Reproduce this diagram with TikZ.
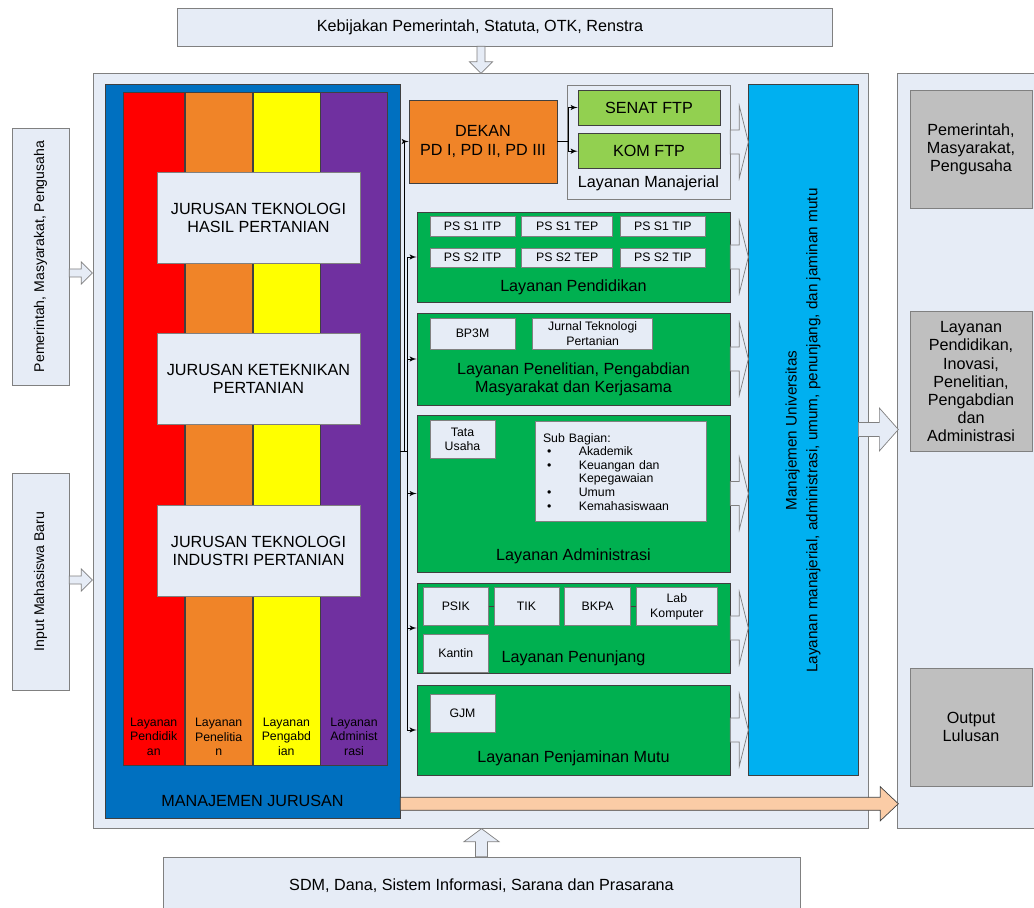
\documentclass[tikz,border=0pt]{standalone}
\usepackage{fontspec}
\setmainfont{Liberation Sans}
\usetikzlibrary{shapes,arrows,positioning}

\definecolor{bgpanel}{RGB}{230,236,246}
\definecolor{edgegray}{RGB}{128,128,128}
\definecolor{edgedark}{RGB}{64,64,64}
\definecolor{deptblue}{RGB}{0,112,192}
\definecolor{stripered}{RGB}{255,0,0}
\definecolor{stripeorange}{RGB}{240,132,40}
\definecolor{stripeyellow}{RGB}{255,255,0}
\definecolor{stripepurple}{RGB}{112,48,160}
\definecolor{svcgreen}{RGB}{0,176,80}
\definecolor{senatgreen}{RGB}{146,208,80}
\definecolor{univcyan}{RGB}{0,176,240}
\definecolor{outgrey}{RGB}{191,191,191}
\definecolor{peach}{RGB}{251,204,166}

\newcommand{\fsmain}{\fontsize{9.2}{10.3}\selectfont}
\newcommand{\fssmall}{\fontsize{7}{8.2}\selectfont}
\newcommand{\fsside}{\fontsize{8}{9.6}\selectfont}

\tikzstyle{panel} = [rectangle, draw=edgegray, fill=bgpanel, inner sep=0pt]
\tikzstyle{stripe} = [rectangle, draw=edgedark, minimum width=1.34cm,
    minimum height=13.46cm, inner sep=0pt]
\tikzstyle{jurusan} = [panel, minimum width=4.06cm, minimum height=1.82cm,
    font=\fsmain, text centered, align=center]
\tikzstyle{layanan} = [rectangle, draw=edgedark, fill=svcgreen,
    minimum width=6.26cm, inner sep=0pt]
\tikzstyle{unit} = [panel, font=\fssmall, align=center, minimum width=1.3cm,
    minimum height=0.76cm]
\tikzstyle{grey} = [rectangle, draw=edgegray, fill=outgrey, minimum width=2.44cm,
    font=\fsmain, align=center]
\tikzstyle{lbl} = [anchor=center, font=\fsmain, align=center]
\tikzstyle{sidelbl} = [rotate=90, anchor=center, font=\fsside]
\tikzstyle{stripelbl} = [anchor=center, yshift=0.57cm, font=\fssmall, align=center]
\tikzstyle{line} = [draw, -latex']
\tikzstyle{hollow} = [draw=edgegray, fill=bgpanel]

\begin{document}
\begin{tikzpicture}[x=0.02cm, y=-0.02cm, node distance=0.1cm]
    \useasboundingbox (0,0) rectangle (1034,908);

    % Place frames and inputs
    \node [panel, minimum width=15.5cm, minimum height=15.1cm] (sys) at (480.5,450.5) {};
    \node [panel, minimum width=2.86cm, minimum height=15.1cm] (out) at (968.5,450.5) {};
    \node [panel, minimum width=13.1cm, minimum height=0.76cm,
        label={[font=\fsmain, xshift=-0.49cm]center:Kebijakan Pemerintah, Statuta, OTK, Renstra}] (kebijakan) at (504.5,27) {};
    \node [panel, minimum width=12.74cm, minimum height=1.16cm, font=\fsmain] (sdm) at (481.5,886)
        {SDM, Dana, Sistem Informasi, Sarana dan Prasarana};
    \node [panel, minimum width=1.14cm, minimum height=5.14cm,
        label={[sidelbl]center:Pemerintah, Masyarakat, Pengusaha}] (pms) at (40.5,256.5) {};
    \node [panel, minimum width=1.14cm, minimum height=4.34cm,
        label={[sidelbl]center:Input Mahasiswa Baru}] (input) at (40.5,581.5) {};

    % Place manajemen jurusan
    \node [rectangle, draw=edgedark, fill=deptblue, minimum width=5.9cm, minimum height=14.68cm,
        label={[lbl, yshift=0.34cm]south:MANAJEMEN JURUSAN}] (mj) at (252.5,451) {};
    \node [stripe, fill=stripered, minimum width=1.23cm,
        label={[stripelbl]south:Layanan\\Pendidik\\an}] (spdd) at (153.75,428.5) {};
    \node [stripe, fill=stripeorange, right=0pt of spdd,
        label={[stripelbl]south:Layanan\\Penelitia\\n}] (splt) {};
    \node [stripe, fill=stripeyellow, right=0pt of splt,
        label={[stripelbl]south:Layanan\\Pengabd\\ian}] (spgb) {};
    \node [stripe, fill=stripepurple, right=0pt of spgb,
        label={[stripelbl]south:Layanan\\Administ\\rasi}] (sadm) {};
    \node [jurusan] (jthp) at (258.5,217.5) {JURUSAN TEKNOLOGI\\HASIL PERTANIAN};
    \node [jurusan] (jtp) at (258.5,379) {JURUSAN KETEKNIKAN\\PERTANIAN};
    \node [jurusan] (jtip) at (258.5,551) {JURUSAN TEKNOLOGI\\INDUSTRI PERTANIAN};

    % Place dekan and layanan manajerial
    \node [rectangle, draw=edgedark, fill=stripeorange, minimum width=2.96cm, minimum height=1.66cm,
        font=\fsmain, align=center] (dekan) at (483,141.5) {DEKAN\\PD I, PD II, PD III};
    \node [panel, minimum width=3.26cm, minimum height=2.28cm,
        label={[lbl, yshift=0.33cm]south:Layanan Manajerial}] (manaj) at (648.5,142) {};
    \node [rectangle, draw=edgedark, fill=senatgreen, minimum width=2.84cm, minimum height=0.7cm,
        font=\fsmain] (senat) at (649,107.5) {SENAT FTP};
    \node [rectangle, draw=edgedark, fill=senatgreen, minimum width=2.84cm, minimum height=0.7cm,
        font=\fsmain, below=0.16cm of senat] (kom) {KOM FTP};

    % Place layanan pendidikan
    \node [layanan, minimum height=1.8cm,
        label={[lbl, yshift=0.3cm]south:Layanan Pendidikan}] (lpend) at (573.5,257) {};
    \node [unit, minimum width=1.7cm, minimum height=0.39cm] (s1itp) at (472.5,226.5) {PS S1 ITP};
    \node [unit, minimum width=1.82cm, minimum height=0.39cm, right=0.12cm of s1itp] (s1tep) {PS S1 TEP};
    \node [unit, minimum width=1.7cm, minimum height=0.39cm, right=0.14cm of s1tep] (s1tip) {PS S1 TIP};
    \node [unit, minimum width=1.7cm, minimum height=0.39cm, below=0.22cm of s1itp] (s2itp) {PS S2 ITP};
    \node [unit, minimum width=1.82cm, minimum height=0.39cm, below=0.22cm of s1tep] (s2tep) {PS S2 TEP};
    \node [unit, minimum width=1.7cm, minimum height=0.39cm, below=0.22cm of s1tip] (s2tip) {PS S2 TIP};

    % Place layanan penelitian
    \node [layanan, minimum height=1.84cm,
        label={[lbl, yshift=0.52cm]south:Layanan Penelitian, Pengabdian\\Masyarakat dan Kerjasama}] (lpen) at (573.5,359) {};
    \node [unit, minimum width=1.7cm, minimum height=0.62cm] (bp3m) at (472.5,333.7) {BP3M};
    \node [unit, minimum width=2.4cm, minimum height=0.62cm, right=0.34cm of bp3m] (jurnal) {Jurnal Teknologi\\Pertanian};

    % Place layanan administrasi
    \node [layanan, minimum height=3.14cm,
        label={[lbl, yshift=0.32cm]south:Layanan Administrasi}] (ladm) at (573.5,493.5) {};
    \node [unit, minimum height=0.75cm] (tu) at (462.5,439.5) {Tata\\Usaha};
    \node [unit, minimum width=3.42cm, minimum height=2cm, text width=3.1cm, inner sep=4.5pt,
        align=left, font=\fontsize{7}{7.7}\selectfont] (subbag) at (620.5,471.8)
        {Sub Bagian:\\
        \hspace*{2.3pt}\makebox[18.1pt][l]{\textbullet}Akademik\\
        \hspace*{2.3pt}\makebox[18.1pt][l]{\textbullet}Keuangan dan\\
        \hspace*{20.4pt}Kepegawaian\\
        \hspace*{2.3pt}\makebox[18.1pt][l]{\textbullet}Umum\\
        \hspace*{2.3pt}\makebox[18.1pt][l]{\textbullet}Kemahasiswaan};

    % Place layanan penunjang
    \node [layanan, minimum height=1.8cm,
        label={[lbl, yshift=0.31cm]south:Layanan Penunjang}] (lpenun) at (573.5,628) {};
    \node [unit] (psik) at (455.8,606.7) {PSIK};
    \node [unit, right=of psik] (tik) {TIK};
    \node [unit, minimum width=1.32cm, right=of tik] (bkpa) {BKPA};
    \node [unit, minimum width=1.62cm, right=of bkpa] (lab) {Lab\\Komputer};
    \node [unit, below=0.15cm of psik] (kantin) {Kantin};

    % Place layanan penjaminan mutu
    \node [layanan, minimum height=1.8cm,
        label={[lbl, yshift=0.34cm]south:Layanan Penjaminan Mutu}] (lmutu) at (573.5,730) {};
    \node [unit] (gjm) at (462.5,713) {GJM};

    % Place manajemen universitas and outputs
    \node [rectangle, draw=edgedark, fill=univcyan, minimum width=2.2cm, minimum height=13.82cm,
        label={[rotate=90, anchor=center, align=center, xshift=-0.02cm, font=\fontsize{8.7}{11.9}\selectfont]center:Manajemen Universitas\\Layanan manajerial, administrasi, umum, penunjang, dan jaminan mutu}] (univ) at (803,429.5) {};
    \node [grey, minimum height=2.35cm] (g1) at (971,149.5) {Pemerintah,\\Masyarakat,\\Pengusaha};
    \node [grey, minimum height=2.8cm] (g2) at (971,381.7)
        {Layanan\\Pendidikan,\\Inovasi,\\Penelitian,\\Pengabdian\\dan\\Administrasi};
    \node [grey, minimum height=2.36cm] (g3) at (971,727) {Output\\Lulusan};

    % Draw edges
    \path [line] (mj.east) -- ++(4,0) |- (dekan.west);
    \foreach \b in {lpend,lpen,ladm,lpenun,lmutu}
        \path [line] (mj.east) -- ++(7,0) |- (\b.west);
    \path [line] (dekan.east) -- ++(11,0) |- (senat.west);
    \path [line] (dekan.east) -- ++(11,0) |- (kom.west);
    \draw [edgedark] (psik) -- (tik);
    \draw [edgedark] (bkpa) -- (lab);

    % Draw block arrows
    \foreach \b in {manaj,lpend,lpen,ladm,lpenun,lmutu}
        \draw [hollow] (\b.east) ++(0,-12) -- ++(9,0) -- ++(0,-24) -- ++(9,36)
            -- ++(-9,36) -- ++(0,-24) -- ++(-9,0) -- cycle;
    \draw [hollow] (univ.east) ++(0,-7) -- ++(21,0) -- ++(0,-14.5) -- ++(19,21.5)
        -- ++(-19,21.5) -- ++(0,-14.5) -- ++(-21,0) -- cycle;
    \draw [hollow] (pms.east) ++(0,12.5) -- ++(12,0) -- ++(0,-7) -- ++(11,11)
        -- ++(-11,11) -- ++(0,-7) -- ++(-12,0) -- cycle;
    \draw [hollow] (input.east) ++(0,-5.5) -- ++(12,0) -- ++(0,-7) -- ++(11,11)
        -- ++(-11,11) -- ++(0,-7) -- ++(-12,0) -- cycle;
    \draw [hollow] (kebijakan.south) ++(-27.5,0) -- ++(0,15.5) -- ++(-7.5,0) -- ++(11.5,11.5)
        -- ++(11.5,-11.5) -- ++(-7.5,0) -- ++(0,-15.5) -- cycle;
    \draw [hollow] (sdm.north) ++(-6,0) -- ++(0,-15) -- ++(-11.5,0) -- ++(17.5,-13)
        -- ++(17.5,13) -- ++(-11.5,0) -- ++(0,15) -- cycle;
    \draw [hollow, draw=edgedark, fill=peach] (mj.south east) ++(0,-21) -- ++(480,0) -- ++(0,-10.5)
        -- ++(18,17) -- ++(-18,17) -- ++(0,-10.5) -- ++(-480,0) -- cycle;

\end{tikzpicture}
\end{document}
